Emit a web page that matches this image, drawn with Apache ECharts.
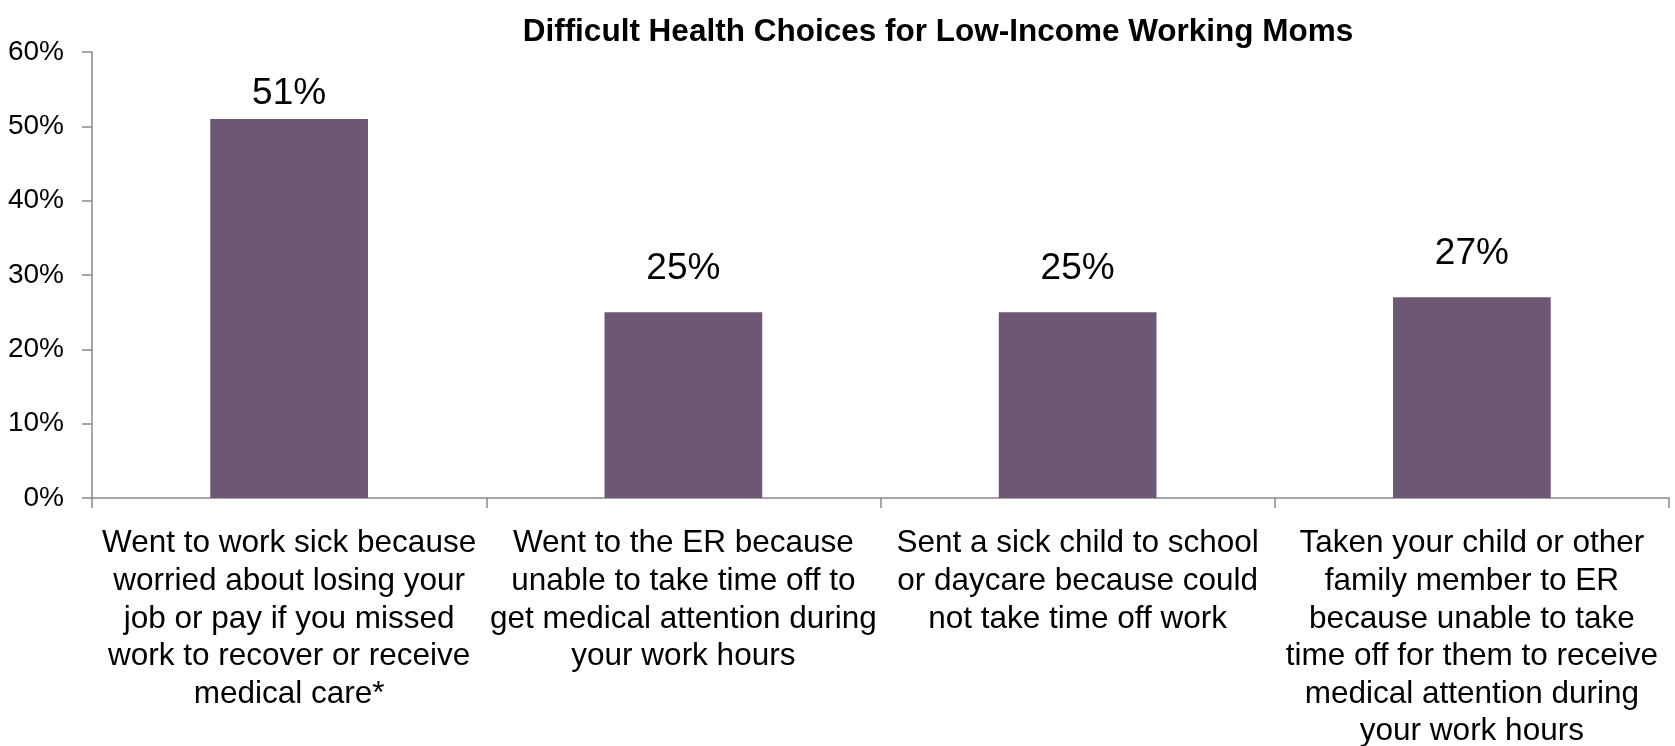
<!DOCTYPE html>
<html>
<head>
<meta charset="utf-8">
<script src="https://cdn.jsdelivr.net/npm/echarts@6/dist/echarts.min.js"></script>
<style>
  html, body { margin: 0; padding: 0; background: #fff; }
  #chart { width: 1675px; height: 746px; }
</style>
</head>
<body>
<div id="chart"></div>
<script>
// Survey responses: share of low-income working moms who made each choice
const chartTitle = 'Difficult Health Choices for Low-Income Working Moms';
const categories = [
  'Went to work sick because\nworried about losing your\njob or pay if you missed\nwork to recover or receive\nmedical care*',
  'Went to the ER because\nunable to take time off to\nget medical attention during\nyour work hours',
  'Sent a sick child to school\nor daycare because could\nnot take time off work',
  'Taken your child or other\nfamily member to ER\nbecause unable to take\ntime off for them to receive\nmedical attention during\nyour work hours'
];
const percentages = [51, 25, 25, 27];
const yTicks = [0, 10, 20, 30, 40, 50, 60];

const FONT = '"Liberation Sans", Arial, sans-serif';
const AXIS_GREY = '#898989';
const BAR_COLOR = '#6E5774';

const chart = echarts.init(document.getElementById('chart'), null, { renderer: 'canvas' });

chart.setOption({
  backgroundColor: '#ffffff',
  animation: false,
  title: {
    text: chartTitle,
    left: 933,
    top: 11,
    textAlign: 'center',
    textStyle: { fontFamily: FONT, fontSize: 31.5, fontWeight: 'bold', color: '#000' }
  },
  grid: {
    left: 92, right: 6, top: 52, bottom: 248,
    containLabel: false,
    outerBoundsMode: 'none'
  },
  xAxis: {
    type: 'category',
    data: categories,
    boundaryGap: true,
    axisLine: { lineStyle: { color: AXIS_GREY, width: 1.5 } },
    axisTick: { show: true, length: 10, lineStyle: { color: AXIS_GREY, width: 1.5 } },
    axisLabel: {
      interval: 0,
      margin: 27,
      fontFamily: FONT,
      fontSize: 31.5,
      lineHeight: 37.6,
      color: '#000',
      align: 'center'
    }
  },
  yAxis: {
    type: 'value',
    min: yTicks[0],
    max: yTicks[yTicks.length - 1],
    interval: 10,
    axisLine: { show: true, lineStyle: { color: AXIS_GREY, width: 1.5 } },
    axisTick: { show: true, length: 10, lineStyle: { color: AXIS_GREY, width: 1.5 } },
    splitLine: { show: false },
    axisLabel: {
      margin: 28,
      fontFamily: FONT,
      fontSize: 28,
      color: '#000',
      formatter: v => v + '%'
    }
  },
  series: [{
    type: 'bar',
    barWidth: '40%',
    itemStyle: { color: BAR_COLOR },
    label: {
      show: true,
      position: 'top',
      distance: 25,
      fontFamily: FONT,
      fontSize: 37,
      color: '#000',
      formatter: p => p.value + '%'
    },
    // the tallest bar's label sits closer to its bar so it stays inside the plot
    data: percentages.map((v, i) => (i === 0 ? { value: v, label: { distance: 7 } } : v))
  }]
});
</script>
</body>
</html>
